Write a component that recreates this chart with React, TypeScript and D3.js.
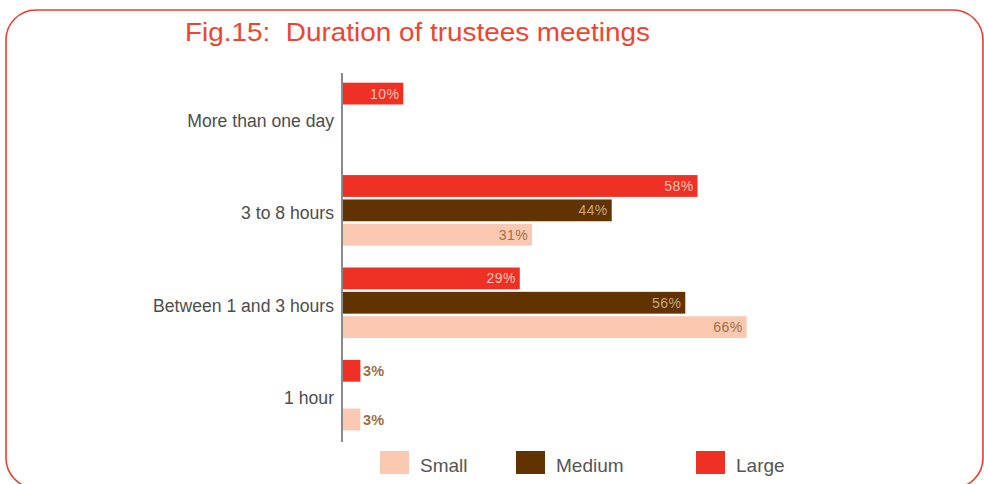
import React from 'react';
import * as d3 from 'd3';

// chart data
const categories = ['More than one day', '3 to 8 hours', 'Between 1 and 3 hours', '1 hour'];
const seriesNames = ['Large', 'Medium', 'Small'];
const largeValues = [10, 58, 29, 3];
const mediumValues = [null, 44, 56, null];
const smallValues = [null, 31, 66, 3];
const legendOrder = ['Small', 'Medium', 'Large'];

const colors = { Large: '#ee3124', Medium: '#613300', Small: '#fbc8b2' };
const insideLabelColors = { Large: '#f9c3b4', Medium: '#caa67e', Small: '#a0703f' };
const FONT = '"Liberation Sans", Arial, Helvetica, sans-serif';

const W = 984;
const H = 484;

export default function App() {
  const valuesBySeries = { Large: largeValues, Medium: mediumValues, Small: smallValues };

  const x = d3.scaleLinear().domain([0, 100]).range([342, 955]);
  const y = d3.scaleBand()
    .domain(categories)
    .range([82.7, 430.4])
    .paddingInner(0.237)
    .paddingOuter(0);
  const y1 = d3.scaleBand()
    .domain(seriesNames)
    .range([0, y.bandwidth()])
    .paddingInner(0.105);

  const bars = [];
  categories.forEach((cat, i) => {
    seriesNames.forEach((s) => {
      const v = valuesBySeries[s][i];
      if (v == null) return;
      bars.push({ cat, series: s, value: v });
    });
  });

  const legendX = [380, 516, 696];

  return (
    <svg width={W} height={H} style={{ position: 'absolute', left: 0, top: 0 }} fontFamily={FONT}>
      <rect x={0} y={0} width={W} height={H} fill="#ffffff" />
      <rect x={6} y={10} width={977} height={478} rx={30} ry={30}
        fill="none" stroke="#ef3b2c" strokeWidth={1.6} />

      <text x={185} y={40.7} fontSize={26} fill="#ef4430" textLength={465}
        lengthAdjust="spacingAndGlyphs" style={{ whiteSpace: 'pre' }}>
        {'Fig.15:  Duration of trustees meetings'}
      </text>

      {categories.map((c) => (
        <text key={c} x={334} y={y(c) + y.bandwidth() / 2 + 9} textAnchor="end"
          fontSize={17.6} fill="#4d4d4d">
          {c}
        </text>
      ))}

      {bars.map((b) => {
        const by = y(b.cat) + y1(b.series);
        const bw = x(b.value) - x(0);
        const inside = b.value >= 10;
        return (
          <g key={b.cat + b.series}>
            <rect x={x(0)} y={by} width={bw} height={y1.bandwidth()} fill={colors[b.series]} />
            <text
              x={inside ? x(b.value) - 4 : x(b.value) + 2.5}
              y={by + y1.bandwidth() / 2 + 5}
              textAnchor={inside ? 'end' : 'start'}
              fontSize={inside ? 14 : 14.5}
              letterSpacing={0.4}
              fontWeight={inside ? 'normal' : 'bold'}
              fill={inside ? insideLabelColors[b.series] : '#a0703f'}
            >
              {b.value}%
            </text>
          </g>
        );
      })}

      <line x1={342} x2={342} y1={73} y2={442} stroke="#8a8a8a" strokeWidth={2} />

      {legendOrder.map((s, i) => (
        <g key={s}>
          <rect x={legendX[i]} y={451} width={29} height={23} fill={colors[s]} />
          <text x={legendX[i] + 40} y={472} fontSize={19} fill="#555555">{s}</text>
        </g>
      ))}
    </svg>
  );
}
